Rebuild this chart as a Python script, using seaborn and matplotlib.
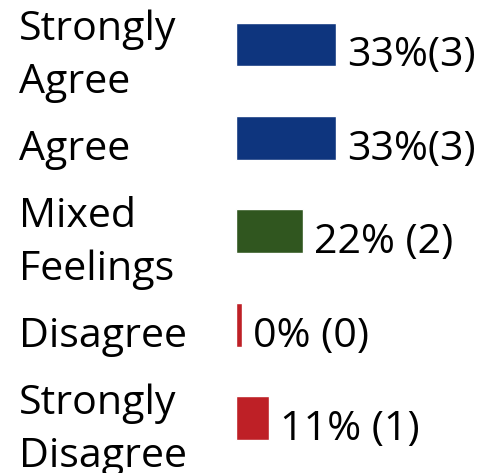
import matplotlib
matplotlib.use("Agg")
import matplotlib.pyplot as plt
import seaborn as sns
import pandas as pd

categories = ["Strongly\nAgree", "Agree", "Mixed\nFeelings", "Disagree", "Strongly\nDisagree"]
percents = [33.33, 33.33, 22.22, 0.0, 11.11]
counts = [3, 3, 2, 0, 1]
value_labels = ["33%(3)", "33%(3)", "22% (2)", "0% (0)", "11% (1)"]
colors = ["#0E357E", "#0E357E", "#30561F", "#BE2026", "#BE2026"]

# a zero value is still shown as a thin sliver in the original
MIN_VISIBLE = 2.0
display_vals = [max(v, MIN_VISIBLE) for v in percents]

df = pd.DataFrame({"category": categories, "value": display_vals})

sns.set_style("white")
plt.rcParams["font.family"] = ["Open Sans", "DejaVu Sans"]

W, H = 485, 473
fig = plt.figure(figsize=(W / 100, H / 100), dpi=100)
ax = fig.add_axes([236 / W, 0, 249 / W, 1])

sns.barplot(data=df, x="value", y="category", hue="category", palette=colors,
            orient="h", width=0.47, saturation=1, legend=False, ax=ax)

ax.set_xlim(0, 83)
ax.set_ylim(4.588, -0.476)
ax.axis("off")

FS = 29.6
LINE = 54
for i, (cat, val, lab) in enumerate(zip(categories, display_vals, value_labels)):
    n = cat.count("\n") + 1
    ax.annotate(cat, xy=(19, i), xycoords=("figure pixels", "data"),
                xytext=(0, -(22 + (n - 1) * LINE / 2)), textcoords="offset pixels",
                ha="left", va="baseline", fontsize=FS, linespacing=1.42,
                annotation_clip=False, color="#000000")
    ax.annotate(lab, xy=(val, i), xycoords="data",
                xytext=(11, -22), textcoords="offset pixels",
                ha="left", va="baseline", fontsize=FS,
                annotation_clip=False, color="#000000")

fig.savefig("out.png", dpi=100)
